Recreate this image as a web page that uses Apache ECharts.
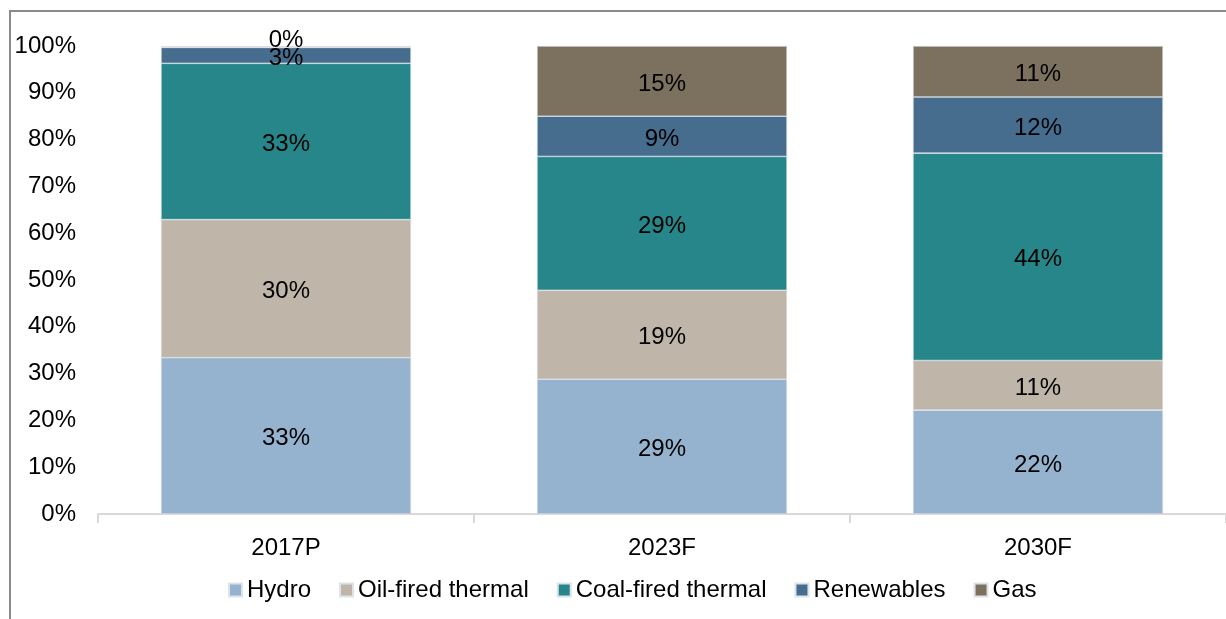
<!DOCTYPE html>
<html lang="en">
<head>
    <meta charset="UTF-8">
    <title>Generation mix</title>
    <script type="text/javascript" src="https://cdn.jsdelivr.net/npm/echarts@6/dist/echarts.min.js"></script>
    <style>
        html, body { margin: 0; padding: 0; background: #fff; }
    </style>
</head>
<body>
    <div id="div_echarts" style="width: 1226px;height:619px;"></div>
    <script type="text/javascript">
        // categories and shares (%)
        var years = ['2017P', '2023F', '2030F'];
        var hydro = [33.4, 28.8, 22.2];
        var oilThermal = [29.5, 19.0, 10.6];
        var coalThermal = [33.4, 28.6, 44.3];
        var renewables = [3.4, 8.6, 12.0];
        var gas = [0.2, 15.0, 10.9];
        var yTicks = [0, 10, 20, 30, 40, 50, 60, 70, 80, 90, 100];

        var names = ['Hydro', 'Oil-fired thermal', 'Coal-fired thermal', 'Renewables', 'Gas'];
        var colors = ['#95b3ce', '#bfb6a9', '#27868a', '#466d8e', '#7c715e'];
        var values = [hydro, oilThermal, coalThermal, renewables, gas];

        var font = 'Liberation Sans, Arial, sans-serif';
        var fs = 24;

        var series = [];
        for (var i = 0; i < names.length; i++) {
            // tiny segments get their label lifted just above the bar
            var data = values[i].map(function (v) {
                return v < 1 ? {value: v, label: {offset: [0, -7]}} : v;
            });
            series.push({
                name: names[i],
                type: 'bar',
                stack: 'total',
                barWidth: '66.5%',
                data: data,
                itemStyle: {color: colors[i], borderColor: '#dde3ea', borderWidth: 0.6},
                label: {
                    show: true,
                    position: 'inside',
                    offset: [0, 3],
                    color: '#000',
                    fontFamily: font,
                    fontSize: fs,
                    formatter: function (p) { return Math.round(p.value) + '%'; }
                }
            });
        }

        var myChart = echarts.init(document.getElementById('div_echarts'));
        var option = {
            animation: false,
            color: colors,
            graphic: [{
                type: 'rect',
                shape: {x: 10, y: 11, width: 1400, height: 800},
                style: {fill: 'none', stroke: '#8a8a8a', lineWidth: 2},
                silent: true
            }],
            legend: {
                data: names,
                top: 573,
                left: 223,
                itemWidth: 13,
                itemHeight: 13,
                itemGap: 28,
                icon: 'rect',
                textStyle: {fontFamily: font, fontSize: fs, color: '#000'}
            },
            grid: {left: 98, right: 0, top: 46, bottom: 105, containLabel: false},
            xAxis: {
                type: 'category',
                data: years,
                axisLine: {lineStyle: {color: '#d9d9d9', width: 2}},
                axisTick: {show: true, length: 9, lineStyle: {color: '#d9d9d9', width: 2}},
                axisLabel: {fontFamily: font, fontSize: fs, color: '#000', margin: 22}
            },
            yAxis: {
                type: 'value',
                min: yTicks[0],
                max: yTicks[yTicks.length - 1],
                interval: 10,
                axisLine: {show: false},
                axisTick: {show: false},
                splitLine: {show: false},
                axisLabel: {
                    fontFamily: font, fontSize: fs, color: '#000', margin: 22,
                    padding: [3, 0, 0, 0],
                    formatter: function (v) { return v + '%'; }
                }
            },
            series: series
        };
        myChart.setOption(option);
    </script>
</body>
</html>
